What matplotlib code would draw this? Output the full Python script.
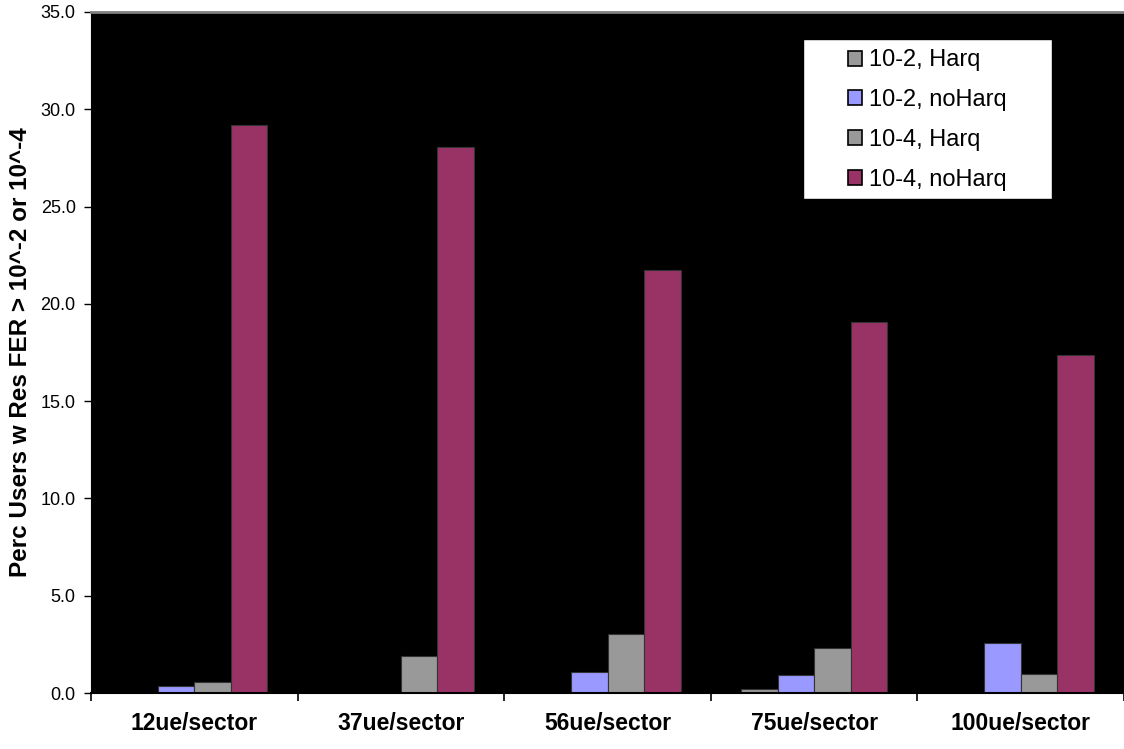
import matplotlib
matplotlib.use("Agg")
import matplotlib.pyplot as plt
from matplotlib.patches import Rectangle, Patch
import numpy as np

plt.rcParams['font.family'] = ['Liberation Sans', 'DejaVu Sans']

categories = ["12ue/sector", "37ue/sector", "56ue/sector", "75ue/sector", "100ue/sector"]
series_names = ["10-2, Harq", "10-2, noHarq", "10-4, Harq", "10-4, noHarq"]
harq_1e2 = [0.0, 0.0, 0.0, 0.2, 0.0]
noharq_1e2 = [0.36, 0.0, 1.08, 0.93, 2.57]
harq_1e4 = [0.57, 1.9, 3.03, 2.31, 0.98]
noharq_1e4 = [29.19, 28.06, 21.74, 19.06, 17.37]
series_values = [harq_1e2, noharq_1e2, harq_1e4, noharq_1e4]
colors = ["#999999", "#9999FF", "#999999", "#993366"]
yticks = [0.0, 5.0, 10.0, 15.0, 20.0, 25.0, 30.0, 35.0]

W, H = 1124, 749
fig = plt.figure(figsize=(W / 100, H / 100), dpi=100)
ax = fig.add_axes([91 / W, 1 - 693 / H, (W - 91) / W, (693 - 12) / H])
ax.set_facecolor("black")

x = np.arange(len(categories)) + 0.5
bw = 0.177
for i, (vals, c) in enumerate(zip(series_values, colors)):
    ax.bar(x + (i - 1.5) * bw, vals, width=bw, color=c, edgecolor="#333333",
           linewidth=0.8, zorder=2)

ax.set_xlim(0, len(categories))
ax.set_ylim(0, 35)
ax.set_yticks(yticks)
ax.set_yticklabels([f"{v:.1f}" for v in yticks], fontsize=13)
ax.tick_params(axis="y", direction="out", length=5, width=1, pad=6, colors="black")

ax.set_xticks(np.arange(len(categories) + 1))
ax.set_xticklabels([])
ax.tick_params(axis="x", which="major", direction="out", length=6, width=1.2)
ax.set_xticks(x, minor=True)
ax.set_xticklabels(categories, minor=True, fontsize=16.5, fontweight="bold")
ax.tick_params(axis="x", which="minor", length=0, pad=14)

ax.spines["top"].set_color("#808080")
ax.spines["top"].set_linewidth(2)
ax.spines["right"].set_visible(False)
ax.spines["left"].set_color("black")
ax.spines["bottom"].set_color("black")
ax.spines["bottom"].set_linewidth(1.5)

ax.set_ylabel("Perc Users w Res FER > 10^-2 or 10^-4", fontsize=17.5,
              fontweight="bold")
ax.yaxis.set_label_coords(-0.057, 0.5)

# legend box
ax.add_patch(Rectangle((0.689, 0.725), 0.241, 0.235, transform=ax.transAxes,
                       facecolor="white", edgecolor="black", linewidth=1, zorder=3))
handles = [Patch(facecolor=c, edgecolor="black", linewidth=1.2) for c in colors]
leg = ax.legend(handles, series_names, loc="upper left",
                bbox_to_anchor=(0.733, 0.945), frameon=False, fontsize=17,
                handlelength=0.6, handleheight=0.6, handletextpad=0.3,
                labelspacing=0.75, borderpad=0, borderaxespad=0)
leg.set_zorder(4)

fig.savefig("out.png", dpi=100, facecolor="white")
